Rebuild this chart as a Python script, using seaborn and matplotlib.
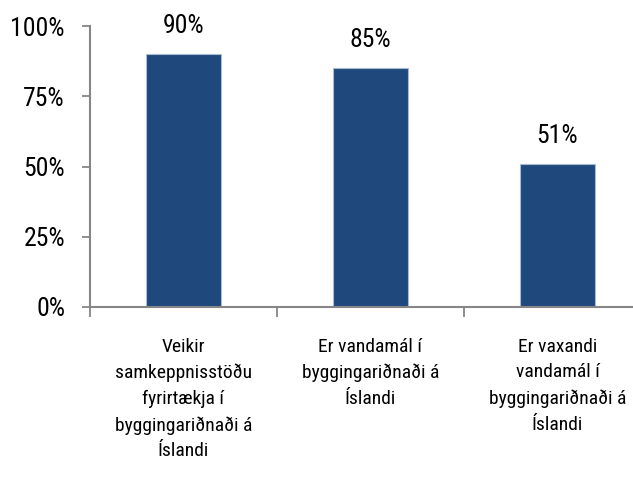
import matplotlib
matplotlib.use("Agg")
import matplotlib.pyplot as plt
from matplotlib import font_manager
from matplotlib.ticker import FixedLocator, PercentFormatter
import pandas as pd
import seaborn as sns

categories = [
    "Veikir\nsamkeppnisstöðu\nfyrirtækja í\nbyggingariðnaði á\nÍslandi",
    "Er vandamál í\nbyggingariðnaði á\nÍslandi",
    "Er vaxandi\nvandamál í\nbyggingariðnaði á\nÍslandi",
]
values = [90, 85, 51]
y_ticks = [0, 25, 50, 75, 100]

# original uses Arial Narrow, take a narrow font if one is installed
names = sorted({f.name for f in font_manager.fontManager.ttflist})
preferred = ["Liberation Sans Narrow", "Arial Narrow", "Roboto Condensed"]
narrow = [n for n in preferred if n in names]
narrow += [n for n in names if ("Narrow" in n or "Condensed" in n) and n not in narrow]

sns.set_theme(style="white")
plt.rcParams["font.family"] = narrow[:1] + ["Liberation Sans", "DejaVu Sans"]

df = pd.DataFrame({"category": categories, "value": values})

fig = plt.figure(figsize=(6.33, 4.9), dpi=100)
ax = fig.add_axes([90 / 633, 1 - 307 / 490, 561 / 633, 281 / 490])

sns.barplot(data=df, x="category", y="value", color="#1F497D", saturation=1,
            width=0.4, edgecolor="#A9BBD3", linewidth=0.8, ax=ax)

for i, v in enumerate(values):
    ax.annotate(f"{v}%", (i, v), xytext=(0, 11.5), textcoords="offset points",
                ha="center", va="bottom", fontsize=18.5, color="black")

ax.set_xlim(-0.5, 2.5)
ax.set_ylim(0, 100)
ax.set_yticks(y_ticks)
ax.yaxis.set_major_formatter(PercentFormatter(decimals=0))
ax.tick_params(axis="y", labelsize=18.5, length=6, width=1.3, color="#868686",
               direction="out", left=True, pad=12, labelcolor="black")
fs_cat = 14 if narrow else 12
ax.tick_params(axis="x", which="major", length=0, labelsize=fs_cat, pad=22, labelcolor="black")
for lab in ax.get_xticklabels():
    lab.set_linespacing(1.55 if narrow else 1.75)
ax.xaxis.set_minor_locator(FixedLocator([-0.5, 0.5, 1.5, 2.5]))
ax.tick_params(axis="x", which="minor", length=7, width=1.3, color="#868686",
               direction="out", bottom=True)
ax.set_xlabel("")
ax.set_ylabel("")

for side in ["top", "right"]:
    ax.spines[side].set_visible(False)
for side in ["left", "bottom"]:
    ax.spines[side].set_color("#868686")
    ax.spines[side].set_linewidth(1.5)

fig.savefig("out.png", dpi=100)
